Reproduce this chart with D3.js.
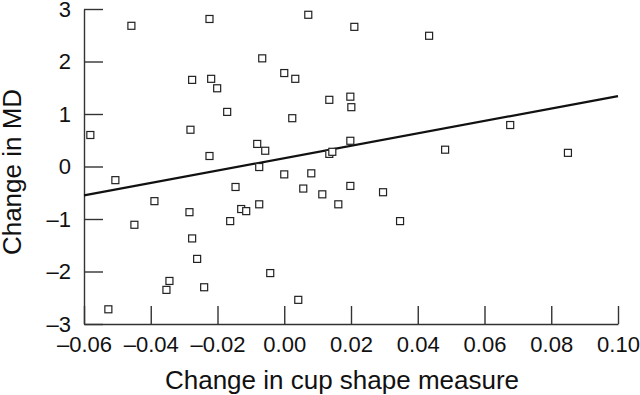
<!DOCTYPE html>
<html>
<head>
    <meta charset="utf-8">
    <title>Change in MD vs change in cup shape measure</title>
    <script src="https://d3js.org/d3.v7.min.js"></script>
    <style>
        body { margin: 0; background: #fff; }
        svg { display: block; font-family: "Liberation Sans", Arial, Helvetica, sans-serif; }
        .axis path, .axis line { stroke: #333; stroke-width: 1.4; }
        .axis text { font-size: 22px; fill: #111; }
        .title { font-size: 26px; fill: #111; }
    </style>
</head>
<body>
<div id="chart"></div>
<script>
    // values
    const cupShape = [
        -0.0458, -0.0224, -0.0276, -0.0219, -0.0201, -0.0581, -0.0281, -0.0224,
         0.0072,  0.0210, -0.0066,  0.0000,  0.0033,  0.0135,  0.0198,  0.0201,
        -0.0171,  0.0024, -0.0081, -0.0057,  0.0135,  0.0144,  0.0198, -0.0075,
         0.0081,  0.0434,  0.0677,  0.0482,  0.0850, -0.0506, -0.0389, -0.0284,
        -0.0449, -0.0276, -0.0261, -0.0344, -0.0353, -0.0240, -0.0527,  0.0000,
        -0.0146,  0.0057,  0.0114,  0.0198,  0.0296,  0.0162, -0.0075, -0.0129,
        -0.0114, -0.0162,  0.0347, -0.0042,  0.0042
    ];
    const changeMD = [
         2.68,  2.81,  1.65,  1.67,  1.49,  0.60,  0.70,  0.20,
         2.89,  2.66,  2.06,  1.78,  1.67,  1.27,  1.33,  1.13,
         1.04,  0.92,  0.43,  0.30,  0.24,  0.28,  0.49, -0.01,
        -0.13,  2.49,  0.79,  0.32,  0.26, -0.26, -0.66, -0.87,
        -1.11, -1.37, -1.76, -2.18, -2.35, -2.30, -2.72, -0.15,
        -0.39, -0.42, -0.53, -0.37, -0.49, -0.72, -0.72, -0.81,
        -0.85, -1.04, -1.04, -2.03, -2.54
    ];
    // regression line end points
    const fitX = [-0.06, 0.10];
    const fitY = [-0.55, 1.34];

    const xTicks = [-0.06, -0.04, -0.02, 0.00, 0.02, 0.04, 0.06, 0.08, 0.10];
    const yTicks = [-3, -2, -1, 0, 1, 2, 3];

    const width = 640, height = 395;
    const svg = d3.select("#chart").append("svg")
        .attr("width", width)
        .attr("height", height);

    const x = d3.scaleLinear().domain([-0.06, 0.10]).range([84, 618]);
    const y = d3.scaleLinear().domain([-3, 3]).range([324, 9]);

    // en dash for negatives, like the original print
    const dash = f => d => f(d).replace("−", "–").replace("-", "–");

    svg.append("g")
        .attr("class", "axis")
        .attr("transform", "translate(0,324)")
        .call(d3.axisBottom(x).tickValues(xTicks).tickFormat(dash(d3.format(".2f")))
            .tickSizeInner(-18).tickSizeOuter(0).tickPadding(12));

    svg.append("g")
        .attr("class", "axis")
        .attr("transform", "translate(84,0)")
        .call(d3.axisLeft(y).tickValues(yTicks).tickFormat(dash(d3.format("d")))
            .tickSizeInner(-19).tickSizeOuter(0).tickPadding(13));

    const line = d3.line().x(d => x(d[0])).y(d => y(d[1]));
    svg.append("path")
        .datum(d3.zip(fitX, fitY))
        .attr("d", line)
        .attr("fill", "none")
        .attr("stroke", "#111")
        .attr("stroke-width", 2.2);

    const s = 7;
    svg.append("g").selectAll("rect")
        .data(d3.zip(cupShape, changeMD))
        .join("rect")
        .attr("x", d => x(d[0]) - s / 2)
        .attr("y", d => y(d[1]) - s / 2)
        .attr("width", s)
        .attr("height", s)
        .attr("fill", "#fff")
        .attr("stroke", "#222")
        .attr("stroke-width", 1.2);

    svg.append("text")
        .attr("class", "title")
        .attr("x", 342)
        .attr("y", 389)
        .attr("text-anchor", "middle")
        .text("Change in cup shape measure");

    svg.append("text")
        .attr("class", "title")
        .attr("transform", "translate(21,172) rotate(-90)")
        .attr("text-anchor", "middle")
        .text("Change in MD");
</script>
</body>
</html>
